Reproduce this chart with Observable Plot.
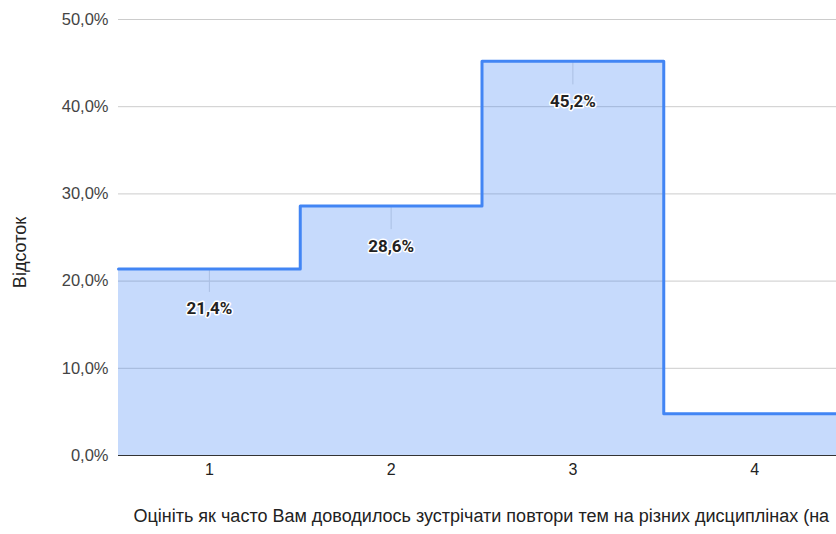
<!DOCTYPE html>
<html><head><meta charset="utf-8">
<script src="https://cdn.jsdelivr.net/npm/d3@7"></script>
<script src="https://cdn.jsdelivr.net/npm/@observablehq/plot@0.6"></script>
<style>
html,body{margin:0;padding:0;background:#fff;overflow:hidden;width:836px;height:534px}
#chart svg{overflow:hidden;display:block}
</style></head><body><div id="chart"></div>
<script>
const categories = [1, 2, 3, 4];
const shares = [21.4, 28.6, 45.2, 4.8];
const labelShown = [true, true, true, false];
const yTicks = [0, 10, 20, 30, 40, 50];
const yAxisTitle = "Відсоток";
const xAxisTitle = "Оцініть як часто Вам доводилось зустрічати повтори тем на різних дисциплінах (на";

const rows = categories.map((c, i) => ({cat: c, x1: c - 0.5, x2: c + 0.5, value: shares[i], show: labelShown[i]}));
const last = rows[rows.length - 1];
const stepPoints = [...rows.map(r => ({x: r.x1, value: r.value})), {x: last.x2, value: last.value}];
const fmt = v => v.toFixed(1).replace(".", ",") + "%";

const chart = Plot.plot({
  width: 836,
  height: 534,
  marginLeft: 118,
  marginTop: 19,
  marginBottom: 79,
  marginRight: 0,
  style: {fontFamily: "'Liberation Sans', Arial, sans-serif", background: "#fff"},
  x: {domain: [0.5, 4.5], range: [118, 845], axis: null},
  y: {domain: [0, 50], axis: null},
  marks: [
    Plot.ruleY(yTicks.slice(1), {stroke: "#cccccc", strokeWidth: 1}),
    Plot.areaY(stepPoints, {x: "x", y: "value", curve: "step-after", fill: "#4285f4", fillOpacity: 0.3}),
    Plot.ruleX(rows.filter(d => d.show), {x: "cat", y1: "value", y2: d => d.value - 2.7, stroke: "#aabfe3", strokeWidth: 1}),
    Plot.ruleY([0], {stroke: "#333333", strokeWidth: 1.2}),
    Plot.line(stepPoints, {x: "x", y: "value", curve: "step-after", stroke: "#4285f4", strokeWidth: 3, strokeLinejoin: "round"}),
    Plot.text(rows.filter(d => d.show), {x: "cat", y: "value", text: d => fmt(d.value), dy: 40, fontFamily: "Roboto, sans-serif", fontWeight: "bold", fontSize: 17, fill: "#222222", stroke: "white", strokeWidth: 3}),
    Plot.text(yTicks, {y: d => d, text: d => fmt(d), frameAnchor: "left", textAnchor: "end", dx: -10, fontSize: 16.5, fill: "#444444"}),
    Plot.text(categories, {x: d => d, text: d => String(d), frameAnchor: "bottom", dy: 19, fontSize: 16, fill: "#222222"}),
    Plot.text([yAxisTitle], {frameAnchor: "left", textAnchor: "middle", rotate: -90, dx: -98, dy: 15, fontSize: 18, fill: "#222222"}),
    Plot.text([xAxisTitle], {frameAnchor: "bottom-left", textAnchor: "start", dx: 15, dy: 66, fontSize: 18, fill: "#222222"})
  ]
});
document.getElementById("chart").appendChild(chart);
</script></body></html>
